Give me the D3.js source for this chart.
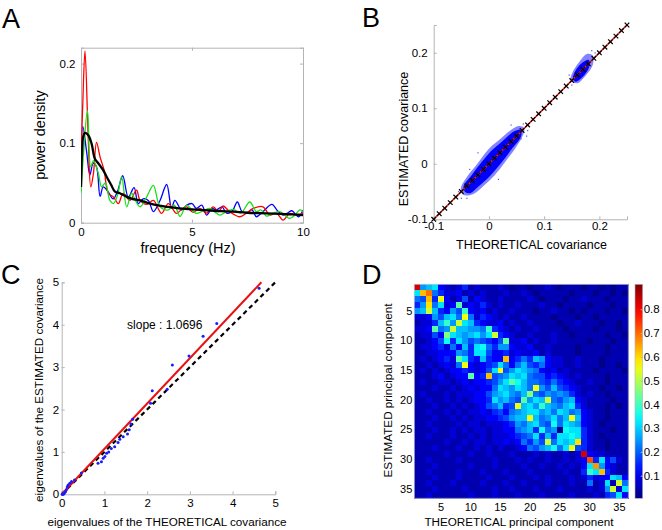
<!DOCTYPE html>
<html><head><meta charset="utf-8">
<script src="https://cdn.jsdelivr.net/npm/d3@7"></script>
<style>body{margin:0;background:#fff} svg{display:block} text{font-family:"Liberation Sans",Arial,sans-serif}</style>
</head><body>
<svg id="fig" width="662" height="530"></svg>
<script>
// ---------- Panel A data ----------
const aXTicks = [0, 5, 10];
const aYTicks = [0, 0.1, 0.2];
const blueF = [0,0.08,0.25,0.4,0.55,0.7,0.86,1.0,1.2,1.45,1.65,1.88,2.13,2.39,2.58,2.8,3.03,3.26,3.56,3.86,4.08,4.23,4.53,4.75,5.0,5.2,5.44,5.66,5.9,6.1,6.35,6.56,6.8,7.04,7.25,7.46,7.7,7.9,8.2,8.6,8.85,9.1,9.3,9.5,9.8,10];
const blueV = [0.05,0.121,0.09,0.06,0.075,0.07,0.033,0.045,0.04,0.03,0.04,0.059,0.032,0.044,0.024,0.03,0.028,0.014,0.028,0.048,0.018,0.028,0.016,0.022,0.024,0.018,0.022,0.0096,0.018,0.016,0.02,0.012,0.014,0.026,0.014,0.012,0.016,0.0075,0.014,0.023,0.015,0.0096,0.012,0.015,0.0075,0.016];
const redF = [0,0.08,0.18,0.33,0.44,0.56,0.7,0.86,1.04,1.23,1.46,1.68,1.9,2.2,2.5,2.66,2.96,3.26,3.63,3.93,4.3,4.5,4.76,5.05,5.36,5.65,5.96,6.2,6.4,6.7,7.16,7.45,7.76,8.2,8.5,8.8,9.1,9.4,9.7,10];
const redV = [0.078,0.15,0.216,0.103,0.045,0.062,0.101,0.0825,0.066,0.037,0.0325,0.024,0.037,0.028,0.041,0.028,0.023,0.028,0.0117,0.024,0.0117,0.016,0.02,0.013,0.018,0.012,0.02,0.014,0.021,0.0138,0.0075,0.012,0.018,0.02,0.0096,0.012,0.0033,0.0117,0.01,0.0117];
const greenF = [0,0.12,0.29,0.44,0.56,0.78,0.93,1.1,1.3,1.46,1.65,1.83,2.06,2.28,2.45,2.66,2.96,3.26,3.56,3.93,4.2,4.46,4.76,5.0,5.2,5.5,5.81,6.05,6.26,6.55,6.86,7.2,7.6,7.9,8.1,8.36,8.65,8.96,9.2,9.4,9.65,9.86,10];
const greenV = [0.037,0.09,0.141,0.07,0.078,0.062,0.045,0.05,0.028,0.024,0.035,0.0575,0.02,0.037,0.028,0.02,0.0325,0.047,0.02,0.016,0.022,0.008,0.022,0.016,0.0117,0.015,0.018,0.013,0.0096,0.014,0.0167,0.012,0.026,0.0138,0.016,0.0083,0.012,0.0138,0.009,0.0054,0.01,0.016,0.014];
const blackF = [0,0.05,0.1,0.18,0.33,0.48,0.63,0.8,1.0,1.16,1.35,1.53,1.75,2.06,2.3,2.66,3.0,3.4,3.86,4.4,5.0,5.36,6.0,6.86,7.5,8.36,9.0,9.5,10];
const blackV = [0.045,0.09,0.108,0.113,0.11,0.099,0.08,0.074,0.066,0.0575,0.048,0.039,0.037,0.0325,0.03,0.028,0.025,0.022,0.02,0.018,0.0167,0.016,0.015,0.0138,0.0125,0.0117,0.011,0.0105,0.0096];

// ---------- Panel B data ----------
const bTicks = [-0.1, 0, 0.1, 0.2];
const markerCov = [-0.1,-0.09,-0.08,-0.07,-0.06,-0.05,-0.04,-0.03,-0.02,-0.01,0,0.01,0.02,0.03,0.04,0.05,0.06,0.07,0.08,0.09,0.1,0.11,0.12,0.13,0.14,0.15,0.16,0.17,0.18,0.19,0.2,0.21,0.22,0.23,0.24,0.25];
const cloudOuter = [[-0.047,-0.056],[-0.051,-0.045],[-0.04,-0.024],[-0.021,0.0],[0.0,0.027],[0.02,0.044],[0.04,0.061],[0.055,0.068],[0.064,0.064],[0.061,0.05],[0.049,0.03],[0.03,0.004],[0.01,-0.021],[-0.01,-0.04],[-0.029,-0.055]];
const cloudInner = [[-0.043,-0.051],[-0.046,-0.041],[-0.031,-0.02],[-0.013,0.003],[0.004,0.023],[0.025,0.041],[0.045,0.058],[0.058,0.061],[0.058,0.049],[0.041,0.026],[0.021,0.0],[0.001,-0.023],[-0.019,-0.041],[-0.034,-0.053]];
const cloud2Outer = [[0.148,0.15],[0.151,0.164],[0.164,0.184],[0.178,0.198],[0.188,0.195],[0.188,0.178],[0.176,0.16],[0.16,0.145]];
const cloud2Inner = [[0.152,0.153],[0.157,0.168],[0.169,0.182],[0.181,0.187],[0.181,0.173],[0.169,0.156],[0.157,0.148]];
const strayX = [-0.055,-0.05,-0.035,0.062,0.07,0.058,0.04,-0.02,0.145,0.192,0.186,0.15,0.017,-0.04,0.068];
const strayY = [-0.05,-0.062,-0.01,0.072,0.06,0.045,0.07,0.02,0.16,0.2,0.204,0.142,-0.028,-0.062,0.05];

// ---------- Panel C data ----------
const cTicks = [0, 1, 2, 3, 4, 5];
const theoEig = [4.62,3.63,3.31,2.98,2.59,2.47,2.12,2.08,1.66,1.62,1.58,1.54,1.44,1.36,1.32,1.24,1.16,1.10,1.05,1.01,0.97,0.93,0.85,0.46,0.30,0.23,0.19,0.15,0.13,0.11,0.09,0.06,0.04,0.03,0.02,0.01];
const estEig  = [4.86,4.03,3.73,3.26,3.05,2.48,2.44,2.15,1.77,1.66,1.52,1.42,1.36,1.30,1.22,1.12,1.08,1.00,0.97,0.89,0.85,0.77,0.73,0.50,0.34,0.30,0.26,0.22,0.18,0.11,0.06,0.02,0.01,0.005,0.003,0.001];
const fitSlope = 1.0696;
const slopeLabel = "slope : 1.0696";

// ---------- Panel D data (|corr| coded by letter a..z) ----------
const dTicks = [5, 10, 15, 20, 25, 30, 35];
const cbTicks = [0.1, 0.2, 0.3, 0.4, 0.5, 0.6, 0.7, 0.8];
const corrRows = [
"zijked"+"cdfcdc"+"ccdcbc"+"cbccdc"+"bcccbc"+"cbcbcc",
"ktvhfd"+"decdcd"+"cccdcc"+"dcbccc"+"ccbccc"+"bccbcb",
"hgtfre"+"cdgced"+"ccdccc"+"cdcbcc"+"cbccdc"+"ccbccc",
"fishkd"+"endedf"+"dcdccd"+"cccdcc"+"bccccb"+"cccbcc",
"ijqjfe"+"igmede"+"cdccdc"+"ccbccd"+"ccbcbc"+"ccbccb",
"ddeigj"+"khrhdf"+"edcdcc"+"dccccb"+"cccbcc"+"bccccc",
"cddfjm"+"iqkjfe"+"ddecdc"+"cdcccc"+"bccdcc"+"cbccbc",
"ddenhi"+"qjjiih"+"mfedcd"+"ccdccc"+"cbcccc"+"bcccbc",
"cddgeo"+"kjijki"+"kqfedc"+"cdcccd"+"ccbccc"+"ccbccb",
"ccdegl"+"fkighg"+"fegndd"+"ecdccd"+"cccccb"+"cccbcc",
"cddefd"+"hejfkl"+"hfiied"+"deccdc"+"cccbcc"+"ccbccc",
"ccddee"+"eihfkk"+"geefde"+"ddecdc"+"cccbcc"+"ccbccc",
"cdcdef"+"dnkfej"+"feetef"+"hfjied"+"dccdcc"+"cbcccc",
"ccdcde"+"dhrede"+"fgkheh"+"jgfhed"+"dccdcc"+"cbccbc",
"cdcdcd"+"eefede"+"gkrgik"+"jihede"+"cdcccc"+"bccccb",
"cccdec"+"deenef"+"tghikj"+"khggef"+"edcdcc"+"ccbccc",
"cdccdd"+"cdedee"+"fgiknl"+"jhhgfh"+"fedccd"+"ccbccc",
"cccdcc"+"dcdede"+"ehkjik"+"jhrigj"+"gfedcc"+"cbccbc",
"cdcccd"+"cdddee"+"gijkih"+"johgih"+"ihfdcd"+"ccbccc",
"ccdccd"+"cdcdee"+"fkijhg"+"nikjqh"+"gijedc"+"cccbcc",
"cccdcc"+"dcdcde"+"ghjfgr"+"jkimji"+"hjkfdc"+"ccbcbc",
"ccdccd"+"cdcdde"+"dfgehi"+"jkkijh"+"kjhied"+"ccbccc",
"cccdcc"+"dcdcdd"+"eefgij"+"jrjhik"+"hjrjed"+"ccbccc",
"ccdccc"+"cdcddc"+"dddefi"+"hjkhgl"+"hkjied"+"cbcccc",
"cccdcc"+"dcdcdd"+"cddeeh"+"ijflhi"+"blkkfd"+"cccbcc",
"ccdccc"+"dccdcd"+"cdddef"+"ghkfjf"+"kklkfd"+"cbcccc",
"cccccd"+"ccdcdd"+"cddede"+"hfigqh"+"kjksfd"+"ccbccc",
"cccdcc"+"cdccdc"+"dcdccd"+"ehgijl"+"hkrgfd"+"ccbccc",
"cccccd"+"cccdcc"+"dcccdc"+"ccdcdc"+"cdcdze"+"ddcccc",
"ccdccc"+"cdcccc"+"cdcccd"+"cdccdc"+"cdcdew"+"fkegdc",
"cccdcc"+"cccdcc"+"cdcccc"+"dccdcc"+"dcdcek"+"uiedcc",
"ccdccc"+"cdcccd"+"cccdcc"+"cdcccc"+"cdccfm"+"ktfdcc",
"cccdcc"+"cdcccc"+"dcccdc"+"ccdcdc"+"ccdcdf"+"deekje",
"ccdccc"+"dccccd"+"cccdcc"+"dcccdc"+"ccdcch"+"cdkcqh",
"cccdcc"+"ccdccc"+"cdccdc"+"ccdccc"+"dccccd"+"cdiqdk",
"ccdccc"+"cccdcc"+"cdcccd"+"cccdcc"+"ccdccc"+"dcfgke"
];
// letter 'a' -> LEVEL_BASE, each next letter + LEVEL_STEP
const LEVEL_STEP = 0.034, LEVEL_BASE = -0.02;

// ---------- drawing ----------
const svg = d3.select("#fig");
const AX = "#b4b4b4";
const FONT = "Liberation Sans, Arial, sans-serif";
function styleAxis(g, fs){
  g.attr("font-family", FONT);
  g.select(".domain").attr("stroke", AX);
  g.selectAll(".tick line").attr("stroke", AX);
  g.selectAll(".tick text").attr("font-size", fs).attr("fill", "#000");
}
function jet(t){
  t = Math.max(0, Math.min(1, t));
  const c = v => Math.round(255*Math.max(0, Math.min(1, v)));
  return `rgb(${c(1.5-Math.abs(4*t-3))},${c(1.5-Math.abs(4*t-2))},${c(1.5-Math.abs(4*t-1))})`;
}
function label(txt, x, y, fs, opts={}){
  const t = svg.append("text").attr("x", x).attr("y", y).attr("font-size", fs)
    .attr("text-anchor", opts.anchor || "middle").text(txt);
  if (opts.rot) t.attr("transform", `rotate(-90,${x},${y})`);
  return t;
}
const fmt = d => String(d);

label("A", 2, 28, 27, {anchor:"start"});
label("B", 362, 27, 27, {anchor:"start"});
label("C", 1, 284, 27, {anchor:"start"});
label("D", 362, 284, 27, {anchor:"start"});

// ===== Panel A =====
{
  const x = d3.scaleLinear([0, 10], [81, 303]);
  const y = d3.scaleLinear([0, 0.22], [222.7, 47.7]);
  svg.append("defs").append("clipPath").attr("id","clipA").append("rect")
    .attr("x",81).attr("y",47.7).attr("width",222).attr("height",175);
  const gx = svg.append("g").attr("transform","translate(0,222.7)")
    .call(d3.axisBottom(x).tickValues(aXTicks).tickSize(-3).tickPadding(5.5).tickFormat(fmt));
  styleAxis(gx, 11.5);
  const gy = svg.append("g").attr("transform","translate(81,0)")
    .call(d3.axisLeft(y).tickValues(aYTicks).tickSize(-3).tickPadding(5.5).tickFormat(fmt));
  styleAxis(gy, 11.5);
  const gt = svg.append("g").attr("transform","translate(0,47.7)")
    .call(d3.axisTop(x).tickValues(aXTicks).tickSize(-3).tickFormat(""));
  styleAxis(gt, 0);
  const gr = svg.append("g").attr("transform","translate(303,0)")
    .call(d3.axisRight(y).tickValues(aYTicks).tickSize(-3).tickFormat(""));
  styleAxis(gr, 0);
  const line = d3.line().x(d => x(d[0])).y(d => y(d[1])).curve(d3.curveCatmullRom);
  const series = [
    {f: blueF, v: blueV, c: "#0000ff", w: 1.3},
    {f: redF, v: redV, c: "#ff0000", w: 1.3},
    {f: greenF, v: greenV, c: "#18e018", w: 1.3},
    {f: blackF, v: blackV, c: "#000000", w: 2.3}
  ];
  const gl = svg.append("g").attr("clip-path","url(#clipA)");
  series.forEach(s => gl.append("path").attr("d", line(s.f.map((f,i)=>[f, s.v[i]])))
    .attr("fill","none").attr("stroke", s.c).attr("stroke-width", s.w).attr("stroke-linejoin","round"));
  label("power density", 44.5, 135, 14.5, {rot:true});
  label("frequency (Hz)", 188, 252.5, 14.5);
}

// ===== Panel B =====
{
  const x = d3.scaleLinear([-0.1, 0.25], [433.7, 627]);
  const y = d3.scaleLinear([-0.1, 0.25], [219.3, 25]);
  const gx = svg.append("g").attr("transform","translate(0,219.3)")
    .call(d3.axisBottom(x).tickValues(bTicks).tickSize(-3).tickPadding(2.5).tickFormat(fmt));
  styleAxis(gx, 11.5);
  const gy = svg.append("g").attr("transform","translate(433.7,0)")
    .call(d3.axisLeft(y).tickValues(bTicks).tickSize(-3).tickPadding(6).tickFormat(fmt));
  styleAxis(gy, 11.5);
  const poly = d3.line().x(d => x(d[0])).y(d => y(d[1])).curve(d3.curveCatmullRomClosed);
  [[cloudOuter, "#5a5aff", 0.75], [cloud2Outer, "#5a5aff", 0.75], [cloudInner, "#0000ff", 1], [cloud2Inner, "#0000ff", 1]]
    .forEach(([pts, col, op]) => svg.append("path").attr("d", poly(pts)).attr("fill", col).attr("fill-opacity", op));
  svg.append("g").selectAll("rect").data(strayX).join("rect")
    .attr("x", d => x(d)-0.5).attr("y", (d,i) => y(strayY[i])-0.5).attr("width",1.2).attr("height",1.2).attr("fill","#5050ff");
  svg.append("line").attr("x1", x(-0.1)).attr("y1", y(-0.1)).attr("x2", x(0.25)).attr("y2", y(0.25))
    .attr("stroke", "#ff2020").attr("stroke-width", 1.6);
  const gm = svg.append("g").attr("stroke","#000").attr("stroke-width",1.2);
  markerCov.forEach(v => {
    const cx = x(v), cy = y(v), r = 2.3;
    gm.append("line").attr("x1",cx-r).attr("y1",cy-r).attr("x2",cx+r).attr("y2",cy+r);
    gm.append("line").attr("x1",cx-r).attr("y1",cy+r).attr("x2",cx+r).attr("y2",cy-r);
  });
  label("ESTIMATED covariance", 408, 139, 12.5, {rot:true});
  label("THEORETICAL covariance", 531.5, 249, 12.5);
}

// ===== Panel C =====
{
  const x = d3.scaleLinear([0, 5], [61.7, 275.3]);
  const y = d3.scaleLinear([0, 5], [494.3, 282.3]);
  const gx = svg.append("g").attr("transform","translate(0,494.3)")
    .call(d3.axisBottom(x).tickValues(cTicks).tickSize(-3).tickPadding(5).tickFormat(fmt));
  styleAxis(gx, 11.5);
  const gy = svg.append("g").attr("transform","translate(61.7,0)")
    .call(d3.axisLeft(y).tickValues(cTicks).tickSize(-3).tickPadding(2.5).tickFormat(fmt));
  styleAxis(gy, 11.5);
  svg.append("line").attr("x1", x(0)).attr("y1", y(0)).attr("x2", x(5)).attr("y2", y(5))
    .attr("stroke","#000").attr("stroke-width",2.2).attr("stroke-dasharray","4.5,3.5");
  svg.append("line").attr("x1", x(0)).attr("y1", y(0)).attr("x2", x(5/fitSlope)).attr("y2", y(5))
    .attr("stroke","#e81010").attr("stroke-width",2);
  svg.append("g").selectAll("circle").data(theoEig).join("circle")
    .attr("cx", d => x(d)).attr("cy", (d,i) => y(estEig[i])).attr("r", 1.5).attr("fill", "#1a1aff");
  label(slopeLabel, x(1.53), y(3.9), 12, {anchor:"start"});
  label("eigenvalues of the ESTIMATED covariance", 43, 390, 11.7, {rot:true});
  label("eigenvalues of the THEORETICAL covariance", 167, 525.5, 11.7);
}

// ===== Panel D =====
{
  const pcs = d3.range(1, 37);
  const x = d3.scaleBand(pcs, [414.3, 628.3]);
  const y = d3.scaleBand(pcs, [284.3, 498.3]);
  const cells = [];
  corrRows.forEach((row, r) => row.split("").forEach((ch, c) => {
    cells.push({r: pcs[r], c: pcs[c], v: Math.max(0.005, LEVEL_BASE + (ch.charCodeAt(0) - 97) * LEVEL_STEP)});
  }));
  const cb = d3.scaleLinear([0.005, 0.905], [498.3, 284.3]);
  const col = v => jet((v - 0.005) / 0.9);
  svg.append("g").attr("shape-rendering","crispEdges").selectAll("rect").data(cells).join("rect")
    .attr("x", d => x(d.c)).attr("y", d => y(d.r))
    .attr("width", x.bandwidth() + 0.5).attr("height", y.bandwidth() + 0.5)
    .attr("fill", d => col(d.v));
  svg.append("rect").attr("x",414.3).attr("y",284.3).attr("width",214).attr("height",214)
    .attr("fill","none").attr("stroke","#c8c8c8").attr("stroke-width",0.8);
  const gx = svg.append("g").attr("transform","translate(0,498.3)")
    .call(d3.axisBottom(x).tickValues(dTicks).tickSize(0).tickPadding(5).tickFormat(fmt));
  styleAxis(gx, 11); gx.select(".domain").remove();
  const gy = svg.append("g").attr("transform","translate(414.3,0)")
    .call(d3.axisLeft(y).tickValues(dTicks).tickSize(0).tickPadding(2).tickFormat(fmt));
  styleAxis(gy, 11); gy.select(".domain").remove();
  const grad = svg.append("defs").append("linearGradient").attr("id","jetg")
    .attr("x1",0).attr("y1",1).attr("x2",0).attr("y2",0);
  d3.range(0, 1.0001, 0.05).forEach(t => grad.append("stop").attr("offset", t).attr("stop-color", jet(t)));
  svg.append("rect").attr("x",635).attr("y",284.3).attr("width",7.7).attr("height",214)
    .attr("fill","url(#jetg)").attr("stroke","#b4b4b4").attr("stroke-width",0.6);
  const gc = svg.append("g").attr("transform","translate(642.7,0)")
    .call(d3.axisRight(cb).tickValues(cbTicks).tickSize(-2).tickPadding(1).tickFormat(fmt));
  styleAxis(gc, 11.5); gc.select(".domain").remove();
  label("ESTIMATED principal component", 391.5, 390.5, 11.7, {rot:true});
  label("THEORETICAL principal component", 519, 526, 11.7);
}
</script>
</body></html>
